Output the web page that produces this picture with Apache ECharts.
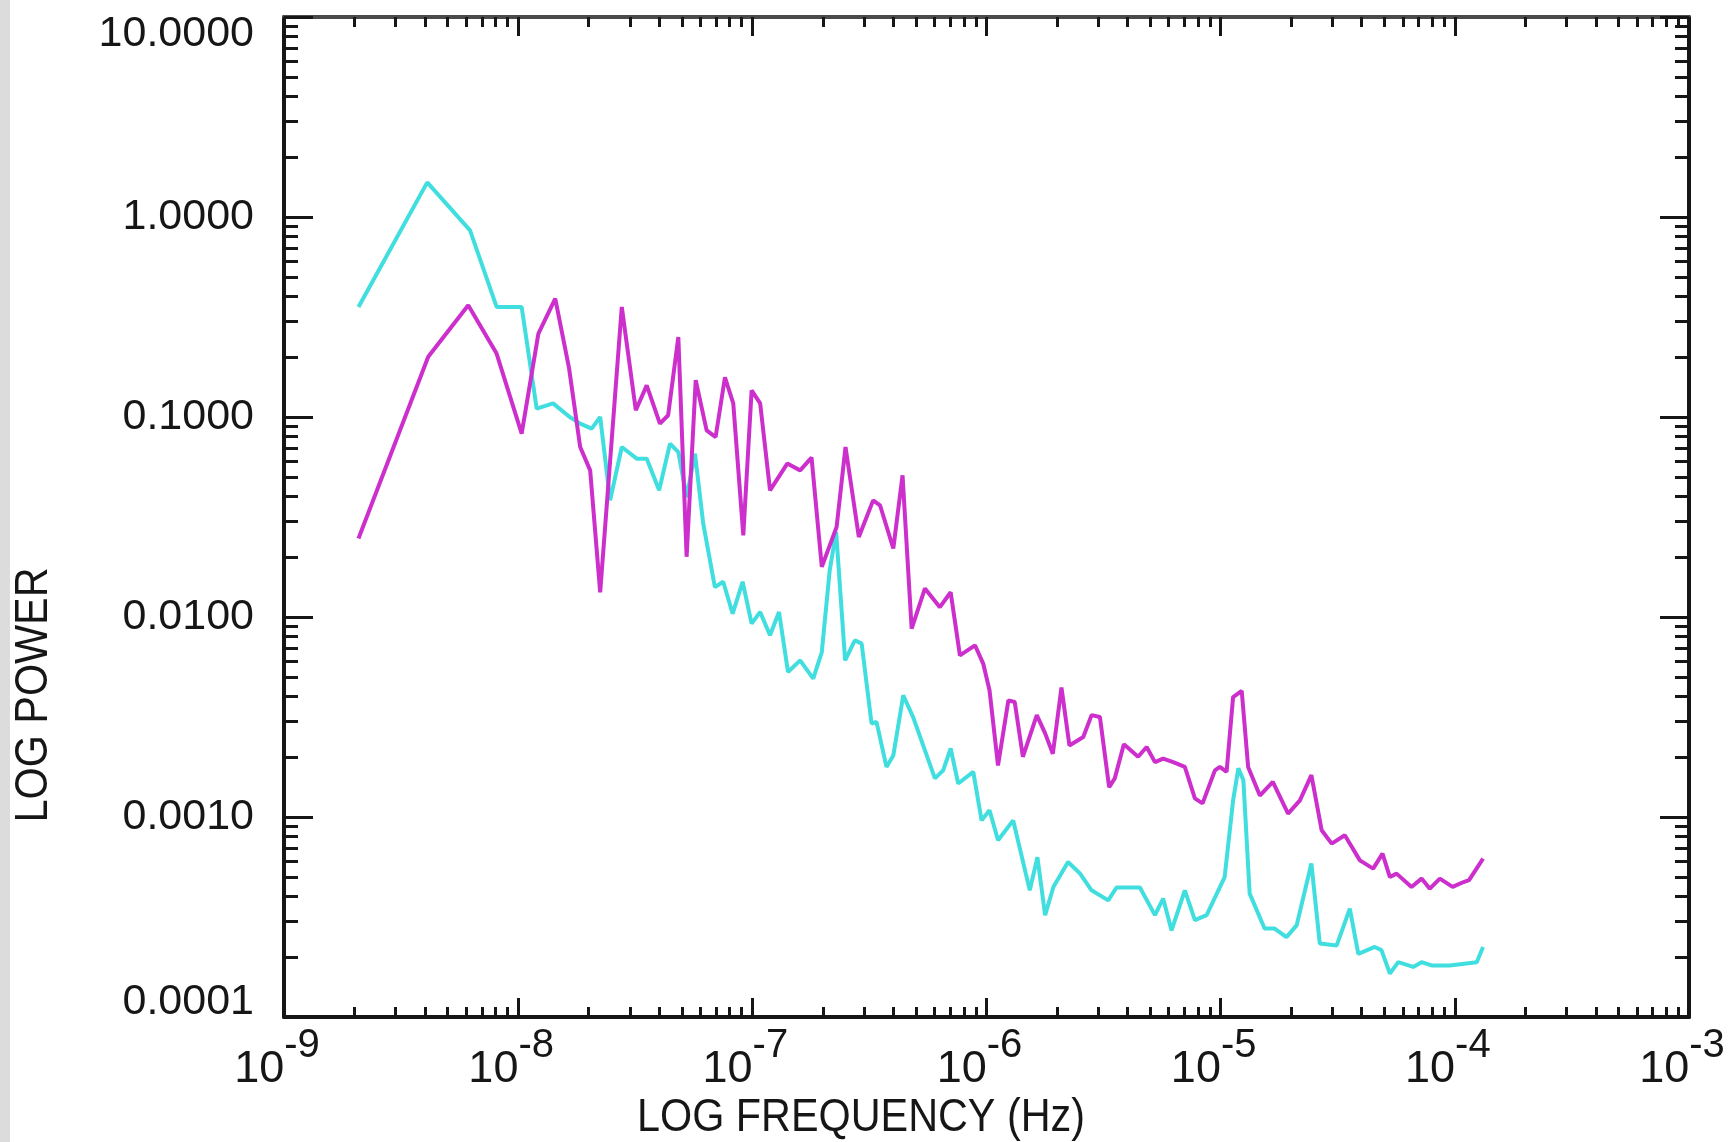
<!DOCTYPE html>
<html>
<head>
<meta charset="utf-8">
<script src="https://cdn.jsdelivr.net/npm/echarts/dist/echarts.min.js"></script>
<style>
html,body{margin:0;padding:0;background:#ffffff;}
#chart{width:1733px;height:1142px;}
</style>
</head>
<body>
<div id="chart"></div>
<script>
// ---- data ----
const cyanFreq = [2.08e-9, 4.09e-9, 6.23e-9, 8.09e-9, 1.035e-8, 1.20e-8, 1.41e-8, 1.66e-8, 1.84e-8, 2.06e-8,
  2.24e-8, 2.47e-8, 2.77e-8, 3.21e-8, 3.54e-8, 4.00e-8, 4.45e-8, 4.83e-8, 5.24e-8, 5.69e-8,
  6.17e-8, 6.92e-8, 7.51e-8, 8.24e-8, 9.09e-8, 9.93e-8, 1.08e-7, 1.19e-7, 1.30e-7, 1.42e-7,
  1.60e-7, 1.82e-7, 1.98e-7, 2.14e-7, 2.28e-7, 2.49e-7, 2.74e-7, 2.93e-7, 3.23e-7, 3.39e-7,
  3.74e-7, 4.00e-7, 4.41e-7, 4.86e-7, 6.02e-7, 6.53e-7, 7.03e-7, 7.57e-7, 8.78e-7, 9.53e-7,
  1.03e-6, 1.12e-6, 1.30e-6, 1.53e-6, 1.65e-6, 1.78e-6, 1.93e-6, 2.23e-6, 2.51e-6, 2.81e-6,
  3.31e-6, 3.59e-6, 4.52e-6, 5.24e-6, 5.68e-6, 6.17e-6, 7.03e-6, 7.76e-6, 8.71e-6, 1.04e-5,
  1.13e-5, 1.19e-5, 1.25e-5, 1.33e-5, 1.54e-5, 1.70e-5, 1.91e-5, 2.11e-5, 2.44e-5, 2.65e-5,
  3.13e-5, 3.56e-5, 3.87e-5, 4.55e-5, 4.86e-5, 5.28e-5, 5.73e-5, 6.64e-5, 7.21e-5, 7.95e-5,
  9.52e-5, 1.24e-4, 1.32e-4];
const cyanPower = [0.355, 1.49, 0.858, 0.355, 0.355, 0.110, 0.117, 0.100, 0.0927, 0.0875,
  0.100, 0.0383, 0.0708, 0.0619, 0.0619, 0.0430, 0.0736, 0.0668, 0.0398, 0.0656,
  0.0293, 0.0141, 0.0150, 0.0104, 0.0150, 0.00927, 0.0106, 0.0081, 0.0106, 0.00531,
  0.00607, 0.00492, 0.00668, 0.0171, 0.0266, 0.00607, 0.00765, 0.00736, 0.00293, 0.00299,
  0.00178, 0.00203, 0.00406, 0.00316, 0.00156, 0.00171, 0.00220, 0.00147, 0.00168, 0.000962,
  0.00108, 0.000765, 0.000962, 0.00043, 0.000629, 0.000323, 0.000447, 0.000596, 0.000521, 0.00043,
  0.000383, 0.000444, 0.000444, 0.000323, 0.000391, 0.000271, 0.00043, 0.000305, 0.000323, 0.000501,
  0.00121, 0.00175, 0.00153, 0.000414, 0.000277, 0.000277, 0.000251, 0.000287, 0.000585, 0.000233,
  0.000228, 0.000348, 0.000207, 0.000224, 0.000216, 0.000165, 0.000188, 0.000178, 0.000188, 0.000181,
  0.000181, 0.000188, 0.000224];

const magentaFreq = [2.08e-9, 4.13e-9, 6.12e-9, 8.09e-9, 1.035e-8, 1.22e-8, 1.44e-8, 1.65e-8, 1.84e-8, 2.03e-8,
  2.24e-8, 2.77e-8, 3.18e-8, 3.54e-8, 4.03e-8, 4.37e-8, 4.83e-8, 5.24e-8, 5.73e-8, 6.38e-8,
  6.97e-8, 7.64e-8, 8.29e-8, 9.15e-8, 9.93e-8, 1.08e-7, 1.19e-7, 1.41e-7, 1.60e-7, 1.79e-7,
  1.98e-7, 2.29e-7, 2.50e-7, 2.85e-7, 3.28e-7, 3.51e-7, 4.00e-7, 4.38e-7, 4.79e-7, 5.46e-7,
  6.32e-7, 7.03e-7, 7.70e-7, 8.93e-7, 9.68e-7, 1.03e-6, 1.12e-6, 1.24e-6, 1.32e-6, 1.43e-6,
  1.64e-6, 1.78e-6, 1.92e-6, 2.09e-6, 2.26e-6, 2.59e-6, 2.81e-6, 3.05e-6, 3.34e-6, 3.53e-6,
  3.86e-6, 4.44e-6, 4.83e-6, 5.24e-6, 5.68e-6, 6.27e-6, 7.03e-6, 7.76e-6, 8.37e-6, 9.45e-6,
  9.92e-6, 1.06e-5, 1.13e-5, 1.23e-5, 1.31e-5, 1.47e-5, 1.67e-5, 1.94e-5, 2.18e-5, 2.44e-5,
  2.70e-5, 2.98e-5, 3.39e-5, 3.93e-5, 4.48e-5, 4.91e-5, 5.28e-5, 5.64e-5, 6.53e-5, 7.21e-5,
  7.82e-5, 8.63e-5, 9.78e-5, 1.09e-4, 1.15e-4, 1.32e-4];
const magentaPower = [0.0247, 0.200, 0.362, 0.2075, 0.0826, 0.261, 0.391, 0.175, 0.0708, 0.0541,
  0.0133, 0.355, 0.108, 0.144, 0.0927, 0.102, 0.251, 0.0200, 0.153, 0.0858,
  0.0794, 0.158, 0.117, 0.0256, 0.136, 0.117, 0.043, 0.0585, 0.0541, 0.0627,
  0.0178, 0.0282, 0.0708, 0.0251, 0.0383, 0.0362, 0.0220, 0.0511, 0.00875, 0.0139,
  0.0112, 0.0133, 0.00643, 0.00722, 0.00585, 0.0043, 0.00181, 0.00383, 0.00376, 0.0020,
  0.00323, 0.00262, 0.00207, 0.00444, 0.00228, 0.00251, 0.00323, 0.00316, 0.00141, 0.00156,
  0.00231, 0.0020, 0.00224, 0.00188, 0.00196, 0.00188, 0.00178, 0.00124, 0.00117, 0.00171,
  0.00178, 0.00168, 0.00398, 0.00427, 0.00178, 0.00128, 0.0015, 0.00104, 0.00121, 0.00162,
  0.000858, 0.000736, 0.00081, 0.000607, 0.000552, 0.000656, 0.000501, 0.000521, 0.000447, 0.000492,
  0.000438, 0.000492, 0.000447, 0.000473, 0.000483, 0.000619];

const xTickExponents = ['-9', '-8', '-7', '-6', '-5', '-4', '-3'];
const yTickLabels = ['0.0001', '0.0010', '0.0100', '0.1000', '1.0000', '10.0000'];
const xTitle = 'LOG FREQUENCY (Hz)';
const yTitle = 'LOG POWER';

// ---- chart ----
const FONT = '"Liberation Sans", Arial, sans-serif';
const INK = '#161616';
const chart = echarts.init(document.getElementById('chart'), null, { renderer: 'canvas' });

function xAxisCfg(pos, showLabel) {
  return {
    type: 'log', logBase: 10, min: 1e-9, max: 1e-3, interval: 1, position: pos,
    axisLine: { show: true, onZero: false, lineStyle: { color: pos === 'top' ? '#4a4a4a' : INK, width: 4 } },
    axisTick: { show: true, inside: true, length: 19, lineStyle: { color: INK, width: 3 } },
    minorTick: { show: true, splitNumber: 9, length: 10, lineStyle: { color: INK, width: 3 } },
    splitLine: { show: false }, minorSplitLine: { show: false },
    axisLabel: showLabel ? {
      show: true, margin: 9, showMinLabel: true, showMaxLabel: true, hideOverlap: false,
      formatter: function (v) {
        const i = Math.round(Math.log10(v)) + 9;
        return '{b|10}{e|' + xTickExponents[i] + '}';
      },
      rich: {
        b: { fontSize: 45, fontFamily: FONT, color: INK, lineHeight: 66, verticalAlign: 'bottom' },
        e: { fontSize: 40, fontFamily: FONT, color: INK, lineHeight: 30, verticalAlign: 'top', padding: [0, 14, 0, 0] }
      }
    } : { show: false }
  };
}
function yAxisCfg(pos, showLabel) {
  return {
    type: 'log', logBase: 10, min: 1e-4, max: 10, interval: 1, position: pos,
    axisLine: { show: true, onZero: false, lineStyle: { color: INK, width: 4 } },
    axisTick: { show: true, inside: true, length: 29, lineStyle: { color: INK, width: 3 } },
    minorTick: { show: true, splitNumber: 9, length: 14, lineStyle: { color: INK, width: 3 } },
    splitLine: { show: false }, minorSplitLine: { show: false },
    axisLabel: showLabel ? {
      show: true, margin: 30, showMinLabel: true, showMaxLabel: true, hideOverlap: false,
      formatter: function (v) {
        const i = Math.round(Math.log10(v)) + 4;
        const t = yTickLabels[i];
        if (i === yTickLabels.length - 1) return '{top|' + t + '}';
        if (i === 0) return '{bot|' + t + '}';
        return '{n|' + t + '}';
      },
      rich: {
        n: { fontSize: 43, fontFamily: FONT, color: INK },
        top: { fontSize: 43, fontFamily: FONT, color: INK, padding: [34, 0, 0, 0] },
        bot: { fontSize: 43, fontFamily: FONT, color: INK, padding: [0, 0, 30, 0] }
      }
    } : { show: false }
  };
}

const option = {
  backgroundColor: '#ffffff',
  animation: false,
  grid: { left: 284, top: 17, width: 1405, height: 1000, containLabel: false, outerBoundsMode: 'none' },
  xAxis: [xAxisCfg('bottom', true), xAxisCfg('top', false)],
  yAxis: [yAxisCfg('left', true), yAxisCfg('right', false)],
  series: [
    {
      type: 'line', name: 'cyan', xAxisIndex: 0, yAxisIndex: 0,
      data: cyanFreq.map((f, i) => [f, cyanPower[i]]),
      showSymbol: false, symbol: 'none', smooth: false,
      lineStyle: { color: '#40dede', width: 4 }, itemStyle: { color: '#40dede' }, z: 3
    },
    {
      type: 'line', name: 'magenta', xAxisIndex: 0, yAxisIndex: 0,
      data: magentaFreq.map((f, i) => [f, magentaPower[i]]),
      showSymbol: false, symbol: 'none', smooth: false,
      lineStyle: { color: '#cc2fcc', width: 4 }, itemStyle: { color: '#cc2fcc' }, z: 4
    }
  ],
  graphic: [
    { type: 'rect', x: 0, y: 0, shape: { x: 0, y: 0, width: 10, height: 1142 }, style: { fill: '#dcdcdc' }, silent: true },
    { type: 'text', x: 861, y: 1118, scaleX: 0.88,
      style: { text: xTitle, fontSize: 47, fontFamily: FONT, fill: INK, align: 'center', verticalAlign: 'middle' } },
    { type: 'text', x: 34.5, y: 695, rotation: Math.PI / 2, scaleX: 0.88,
      style: { text: yTitle, fontSize: 47, fontFamily: FONT, fill: INK, align: 'center', verticalAlign: 'middle' } }
  ]
};
chart.setOption(option);
</script>
</body>
</html>
